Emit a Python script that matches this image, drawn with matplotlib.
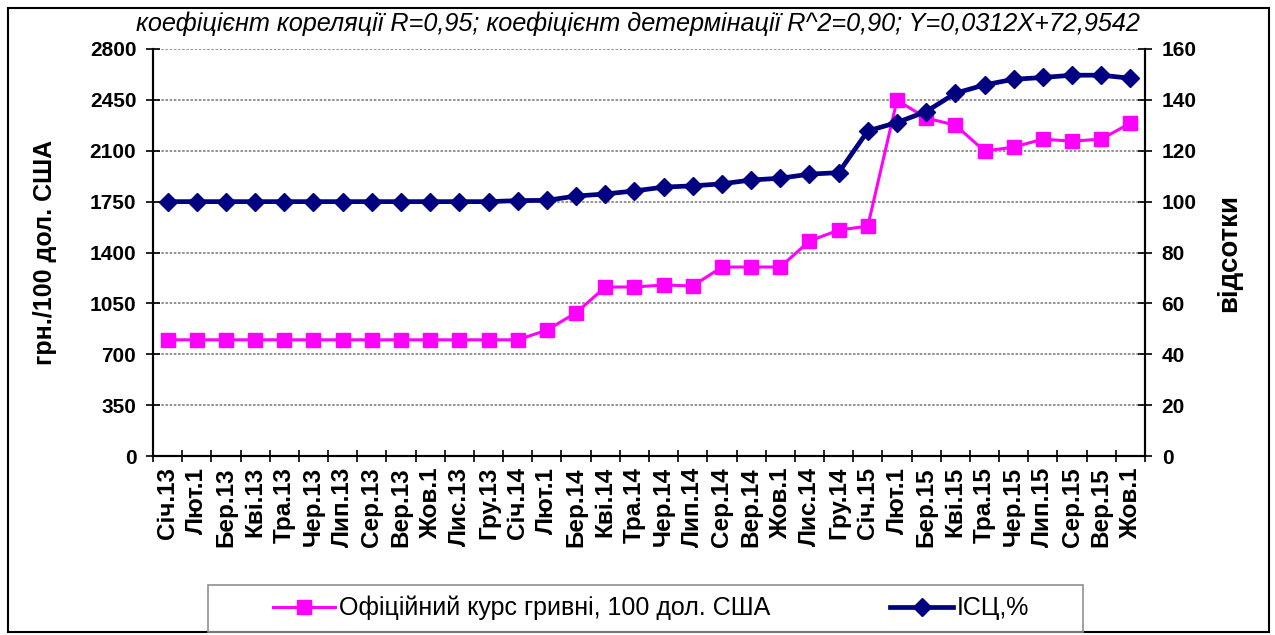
'''
Official hryvnia rate vs consumer price index, 2013-2015.
'''

import numpy as np
import matplotlib.pyplot as plt
from matplotlib.patches import Rectangle

OUT_FILE = 'out.png'

MONTHS = [
    'Січ.13', 'Лют.1', 'Бер.13', 'Кві.13', 'Тра.13', 'Чер.13',
    'Лип.13', 'Сер.13', 'Вер.13', 'Жов.1', 'Лис.13', 'Гру.13',
    'Січ.14', 'Лют.1', 'Бер.14', 'Кві.14', 'Тра.14', 'Чер.14',
    'Лип.14', 'Сер.14', 'Вер.14', 'Жов.1', 'Лис.14', 'Гру.14',
    'Січ.15', 'Лют.1', 'Бер.15', 'Кві.15', 'Тра.15', 'Чер.15',
    'Лип.15', 'Сер.15', 'Вер.15', 'Жов.1',
]

# hryvnia per 100 USD
RATE = [
    799.3, 799.3, 799.3, 799.3, 799.3, 799.3,
    799.3, 799.3, 799.3, 799.3, 799.3, 799.3,
    799.3, 866, 985, 1162, 1163, 1176,
    1170, 1300, 1300, 1300, 1479, 1554,
    1582, 2448, 2325, 2276, 2098, 2125,
    2180, 2166, 2180, 2290,
]

# consumer price index, %
CPI = [
    100, 100, 100, 100, 100, 100,
    100, 100, 100, 100, 100, 100,
    100.4, 100.5, 102.2, 103.0, 104.2, 105.7,
    106.2, 107.0, 108.5, 109.2, 110.8, 111.4,
    127.8, 131.1, 135.4, 142.6, 145.9, 148.1,
    148.8, 149.7, 149.7, 148.5,
]

LEFT_TICKS = [0, 350, 700, 1050, 1400, 1750, 2100, 2450, 2800]
RIGHT_TICKS = [0, 20, 40, 60, 80, 100, 120, 140, 160]

TITLE = ('коефіцієнт кореляції R=0,95; коефіцієнт детермінації '
         'R^2=0,90; Y=0,0312X+72,9542')
RATE_NAME = 'Офіційний курс гривні, 100 дол. США'
CPI_NAME = 'ІСЦ,%'

PINK = '#FF00FF'
NAVY = '#000080'


def main():
    plt.rcParams['font.family'] = ['Liberation Sans', 'DejaVu Sans']

    fig = plt.figure(figsize=(12.75, 6.35), dpi=100)
    fig.patches.append(Rectangle((0.006, 0.005), 0.989, 0.983,
                                 transform=fig.transFigure, fill=False,
                                 edgecolor='black', linewidth=1.5))
    # legend box, drawn separately so it can be wider than its content
    fig.patches.append(Rectangle((208 / 1275, 1 - 632 / 635), 875 / 1275,
                                 47 / 635, transform=fig.transFigure,
                                 fill=False, edgecolor='#909090',
                                 linewidth=1.2))

    ax = fig.add_axes([153 / 1275, 1 - 456 / 635, 992 / 1275, 407 / 635])
    ax2 = ax.twinx()

    x = np.arange(len(MONTHS))

    ax.plot(x, RATE, color=PINK, linewidth=2.2, marker='s',
            markersize=10, markeredgecolor=PINK, zorder=3)
    ax2.plot(x, CPI, color=NAVY, linewidth=3.4, marker='D',
             markersize=9, markeredgecolor=NAVY, zorder=3)

    ax.set_xlim(-0.5, len(MONTHS) - 0.5)
    ax.set_ylim(0, 2800)
    ax2.set_ylim(0, 160)

    ax.set_yticks(LEFT_TICKS)
    ax2.set_yticks(RIGHT_TICKS)
    ax.grid(axis='y', color='#808080', linestyle=(0, (1.5, 1)),
            linewidth=1.2)

    # ticks between categories, labels at centres
    ax.set_xticks(x)
    ax.set_xticklabels(MONTHS, rotation=90, fontsize=17.5,
                       fontweight='bold')
    ax.set_xticks(np.arange(len(MONTHS) + 1) - 0.5, minor=True)
    ax.tick_params(axis='x', which='major', length=0, pad=8)
    ax.tick_params(axis='x', which='minor', length=9, width=1.2,
                   direction='inout')

    ax.tick_params(axis='y', length=10, width=1.2, direction='inout',
                   labelsize=15, pad=7)
    ax2.tick_params(axis='y', length=10, width=1.2, direction='inout',
                    labelsize=15, pad=7)
    for lab in ax.get_yticklabels() + ax2.get_yticklabels():
        lab.set_fontweight('bold')

    for a in (ax, ax2):
        a.spines['top'].set_visible(False)
        for s in ('left', 'right', 'bottom'):
            a.spines[s].set_linewidth(1.5)

    ax.set_ylabel('грн./100 дол. США', fontsize=18, fontweight='bold')
    ax.yaxis.set_label_coords(-0.097, 0.5)
    ax2.set_ylabel('відсотки', fontsize=20, fontweight='bold')
    ax2.yaxis.set_label_coords(1.072, 0.5)

    fig.text(0.5, 1 - 24 / 635, TITLE, ha='center', va='center',
             fontsize=18.2, style='italic')

    handles = [ax.get_lines()[0], ax2.get_lines()[0]]
    fig.legend(handles, [RATE_NAME, CPI_NAME], loc='center',
               bbox_to_anchor=(651 / 1275, 1 - 608 / 635), ncol=2,
               fontsize=18, frameon=False, columnspacing=4.8,
               handlelength=2.5, handletextpad=0.15, borderpad=0.3,
               borderaxespad=0)

    plt.savefig(OUT_FILE, dpi=100)


if __name__ == '__main__':
    main()
